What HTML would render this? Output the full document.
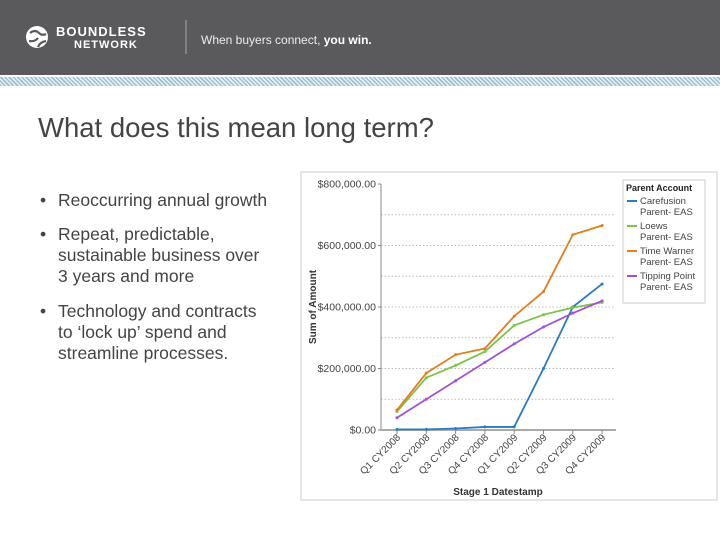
<!DOCTYPE html>
<html><head><meta charset="utf-8"><style>
body{margin:0;width:720px;height:540px;overflow:hidden;background:#fff;font-family:"Liberation Sans",Arial,sans-serif;position:relative}
.hdr{position:absolute;left:0;top:0;width:720px;height:75px;background:#5a595b}
.hatch{position:absolute;left:0;top:77px;width:720px;height:9px;background:repeating-linear-gradient(45deg,#9ec0d0 0 1.5px,#e8f0f4 1.5px 3px)}
.title{position:absolute;left:38px;top:112px;font-size:27.5px;color:#444;white-space:nowrap}
.b{position:absolute;left:40px;font-size:17.5px;color:#444;line-height:21px}
.b span{position:absolute;left:18px;white-space:nowrap}
</style></head><body>
<div class="hdr">
 <svg width="720" height="75">
  <circle cx="37" cy="37" r="11" fill="#fff"/>
  <path d="M30 33 q5 -4 9 0 q3 3 7 1 M29 41 q6 1 9 -3 M38 47 q2 -5 8 -6" stroke="#5a595b" stroke-width="2.2" fill="none"/>
  <text x="56" y="36" fill="#fff" font-size="13" font-weight="bold" letter-spacing="1" font-family="Liberation Sans">BOUNDLESS</text>
  <text x="74" y="48" fill="#fff" font-size="11" font-weight="bold" letter-spacing="1" font-family="Liberation Sans">NETWORK</text>
  <line x1="186" y1="20" x2="186" y2="54" stroke="#aaa" stroke-width="1"/>
  <text x="201" y="44" fill="#eee" font-size="12" font-family="Liberation Sans">When buyers connect, <tspan font-weight="bold" fill="#fff">you win.</tspan></text>
 </svg>
</div>
<div class="hatch"></div>
<div class="title">What does this mean long term?</div>
<div class="b" style="top:190px">•<span>Reoccurring annual growth</span></div>
<div class="b" style="top:224px">•<span>Repeat, predictable,<br>sustainable business over<br>3 years and more</span></div>
<div class="b" style="top:301px">•<span>Technology and contracts<br>to ‘lock up’ spend and<br>streamline processes.</span></div>
<svg id="chart" width="720" height="540" style="position:absolute;left:0;top:0"></svg>
<script>
const categories=["Q1 CY2008","Q2 CY2008","Q3 CY2008","Q4 CY2008","Q1 CY2009","Q2 CY2009","Q3 CY2009","Q4 CY2009"];
const carefusion=[2000,2000,5000,10000,10000,200000,400000,475000];
const loews=[60000,170000,210000,255000,340000,375000,398000,415000];
const timeWarner=[65000,185000,245000,265000,370000,450000,635000,665000];
const tippingPoint=[40000,100000,160000,220000,280000,335000,380000,420000];
const yTicks=[0,200000,400000,600000,800000];
const yTickLabels=["$0.00","$200,000.00","$400,000.00","$600,000.00","$800,000.00"];
const seriesNames=["Carefusion|Parent- EAS","Loews|Parent- EAS","Time Warner|Parent- EAS","Tipping Point|Parent- EAS"];
const colors=["#2a7bc4","#7cc24a","#e07f1e","#a052d0"];
const svg=document.getElementById('chart');const NS="http://www.w3.org/2000/svg";
function el(t,a,p){const e=document.createElementNS(NS,t);for(const k in a)e.setAttribute(k,a[k]);(p||svg).appendChild(e);return e;}
const x=i=>397+i*29.3;const y=v=>430-v/800000*246;
let f=el('rect',{x:301,y:172,width:416,height:328,fill:'none',stroke:'#ccc'});


for(let v=100000;v<=700000;v+=100000){let g=el('line',{x1:381,x2:615,y1:y(v),y2:y(v),stroke:'#bbb','stroke-dasharray':'1.5 2'});

}
yTicks.forEach((v,i)=>{let t=el('text',{x:376,y:y(v)+3.5,'text-anchor':'end','font-size':10.5,fill:'#444','font-family':'Liberation Sans'});t.textContent=yTickLabels[i];


el('line',{x1:378,x2:381,y1:y(v),y2:y(v),stroke:'#888'});});
el('line',{x1:381,x2:381,y1:184,y2:431,stroke:'#888'});
el('line',{x1:381,x2:616,y1:430,y2:430,stroke:'#aaa','stroke-width':2});
categories.forEach((c,i)=>{el('line',{x1:x(i),x2:x(i),y1:430,y2:434,stroke:'#888'});
let t=el('text',{x:x(i)+4,y:438,'text-anchor':'end','font-size':10,fill:'#444','font-family':'Liberation Sans',transform:`rotate(-45 ${x(i)+4} 438)`});t.textContent=c;

});
let yt=el('text',{x:316,y:307,'text-anchor':'middle','font-size':10,'font-weight':'bold',fill:'#333',transform:'rotate(-90 316 307)','font-family':'Liberation Sans'});yt.textContent='Sum of Amount';


let xt=el('text',{x:498,y:495,'text-anchor':'middle','font-size':10,'font-weight':'bold',fill:'#333','font-family':'Liberation Sans'});xt.textContent='Stage 1 Datestamp';


[carefusion,loews,timeWarner,tippingPoint].forEach((s,k)=>{let p=el('polyline',{points:s.map((v,i)=>x(i)+','+y(v)).join(' '),fill:'none',stroke:colors[k],'stroke-width':1.8});


s.forEach((v,i)=>{let d=el('circle',{cx:x(i),cy:y(v),r:1.5,fill:colors[k]});

});});
let lg=el('rect',{x:623,y:180,width:82,height:123,fill:'#fff',stroke:'#ccc'});


let lt=el('text',{x:626,y:191,'font-size':9,'font-weight':'bold',fill:'#222','font-family':'Liberation Sans'});lt.textContent='Parent Account';


seriesNames.forEach((n,k)=>{const yy=204+k*25;el('line',{x1:627,x2:637,y1:yy-3,y2:yy-3,stroke:colors[k],'stroke-width':2});
const parts=n.split('|');parts.forEach((p,j)=>{let t=el('text',{x:640,y:yy+j*11,'font-size':9.5,fill:'#444','font-family':'Liberation Sans'});t.textContent=p;

});});
</script>
</body></html>
